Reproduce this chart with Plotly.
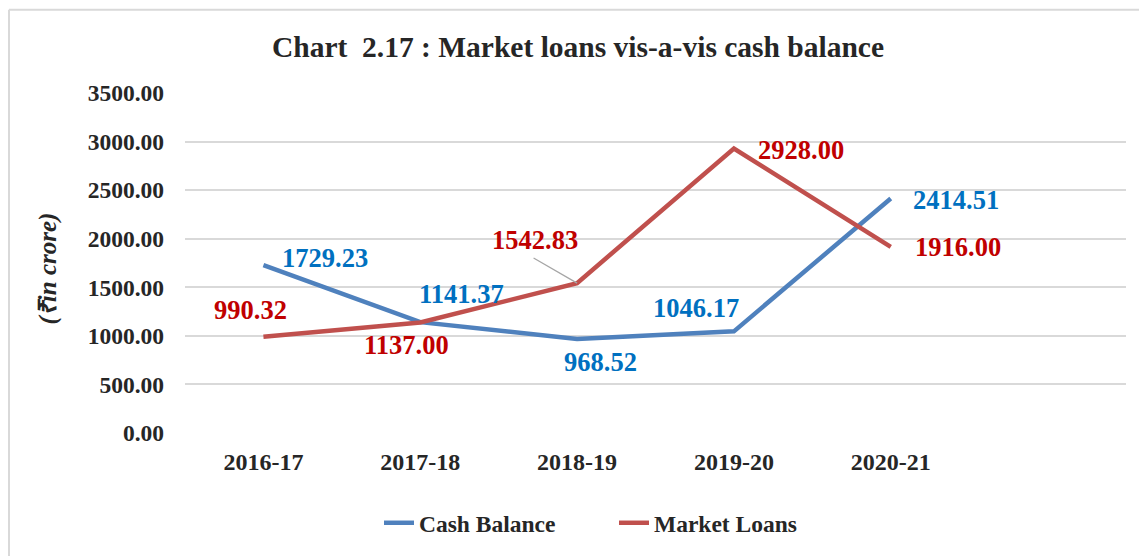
import plotly.graph_objects as go

years = ["2016-17", "2017-18", "2018-19", "2019-20", "2020-21"]
cash_balance = [1729.23, 1141.37, 968.52, 1046.17, 2414.51]
market_loans = [990.32, 1137.00, 1542.83, 2928.00, 1916.00]
y_ticks = [0, 500, 1000, 1500, 2000, 2500, 3000, 3500]

# label offsets in pixels (style only)
cash_offsets = [(62, 7), (41, 28), (23, -23), (-38, 23), (65, -2)]
loan_offsets = [(-13, 27), (-14, -22), (-42, 43), (67, -1), (67, 0)]
leader_index = 2  # label with a leader line

FONT = "Liberation Serif"
BLUE_LINE = "#4F81BD"
RED_LINE = "#C0504D"
BLUE_TXT = "#0070C0"
RED_TXT = "#C00000"
DARK = "#262626"

# plot area in page pixels
PL, PR, PT, PB = 185, 1126, 93, 434
PW, PH = PR - PL, PB - PT


def px(x):
    return (x - PL) / PW


def py(y):
    return (PB - y) / PH


xs = list(range(len(years)))

fig = go.Figure()
fig.add_trace(go.Scatter(x=xs, y=cash_balance, mode="lines", name="Cash Balance",
                         line=dict(color=BLUE_LINE, width=4.5)))
fig.add_trace(go.Scatter(x=xs, y=market_loans, mode="lines", name="Market Loans",
                         line=dict(color=RED_LINE, width=4.5)))

anns = []
for i, v in enumerate(cash_balance):
    dx, dy = cash_offsets[i]
    anns.append(dict(x=xs[i], y=v, text=f"{v:.2f}", showarrow=False, xshift=dx, yshift=dy,
                     font=dict(family=FONT, size=26.5, color=BLUE_TXT, weight="bold")))
for i, v in enumerate(market_loans):
    dx, dy = loan_offsets[i]
    anns.append(dict(x=xs[i], y=v, text=f"{v:.2f}", showarrow=False, xshift=dx, yshift=dy,
                     font=dict(family=FONT, size=26.5, color=RED_TXT, weight="bold")))
# leader line
anns.append(dict(x=xs[leader_index], y=market_loans[leader_index], text="", showarrow=True,
                 arrowhead=0, arrowwidth=1.3, arrowcolor="#A6A6A6", ax=-45, ay=-26,
                 standoff=0, startstandoff=0))

anns.append(dict(xref="paper", yref="paper", x=px(32), y=py(269),
                 text="(₹<i>in crore</i>)", textangle=-90, showarrow=False,
                 font=dict(family=FONT, size=25, color=DARK, weight="bold", style="italic")))

OFF = 8  # page body offset
W, H = 1147 - OFF, 556 - OFF

fig.update_layout(
    width=W, height=H,
    margin=dict(l=PL - OFF, r=W + OFF - PR, t=PT - OFF, b=H + OFF - PB),
    paper_bgcolor="white", plot_bgcolor="white",
    title=dict(text="Chart  2.17 : Market loans vis-a-vis cash balance",
               x=(578 - OFF) / W, xanchor="center", y=1 - (47 - OFF) / H, yanchor="middle",
               font=dict(family=FONT, size=29.5, color=DARK, weight="bold")),
    xaxis=dict(range=[-0.5, 5.5], tickvals=xs, ticktext=years, showgrid=False,
               zeroline=False, showline=False, ticks="", ticklabelstandoff=12,
               tickfont=dict(family=FONT, size=24, color=DARK, weight="bold")),
    yaxis=dict(range=[0, 3500], tickvals=y_ticks, ticktext=[f"{t:.2f}" for t in y_ticks],
               showgrid=True, gridcolor="#D9D9D9", gridwidth=1.5, zeroline=False,
               showline=False, ticks="", ticklabelstandoff=20,
               tickfont=dict(family=FONT, size=23.5, color=DARK, weight="bold")),
    legend=dict(orientation="h", x=px(614), xanchor="center",
                y=py(523), yanchor="middle", entrywidth=190,
                font=dict(family=FONT, size=23.5, color=DARK, weight="bold")),
    showlegend=True,
    annotations=anns,
    shapes=[
        dict(type="line", xref="paper", yref="paper", x0=px(9), x1=px(1160),
             y0=py(9.5), y1=py(9.5), line=dict(color="#D9D9D9", width=2)),
        dict(type="line", xref="paper", yref="paper", x0=px(9), x1=px(9),
             y0=py(9.5), y1=py(570), line=dict(color="#D9D9D9", width=2)),
    ],
)

fig.write_html("out.html")
